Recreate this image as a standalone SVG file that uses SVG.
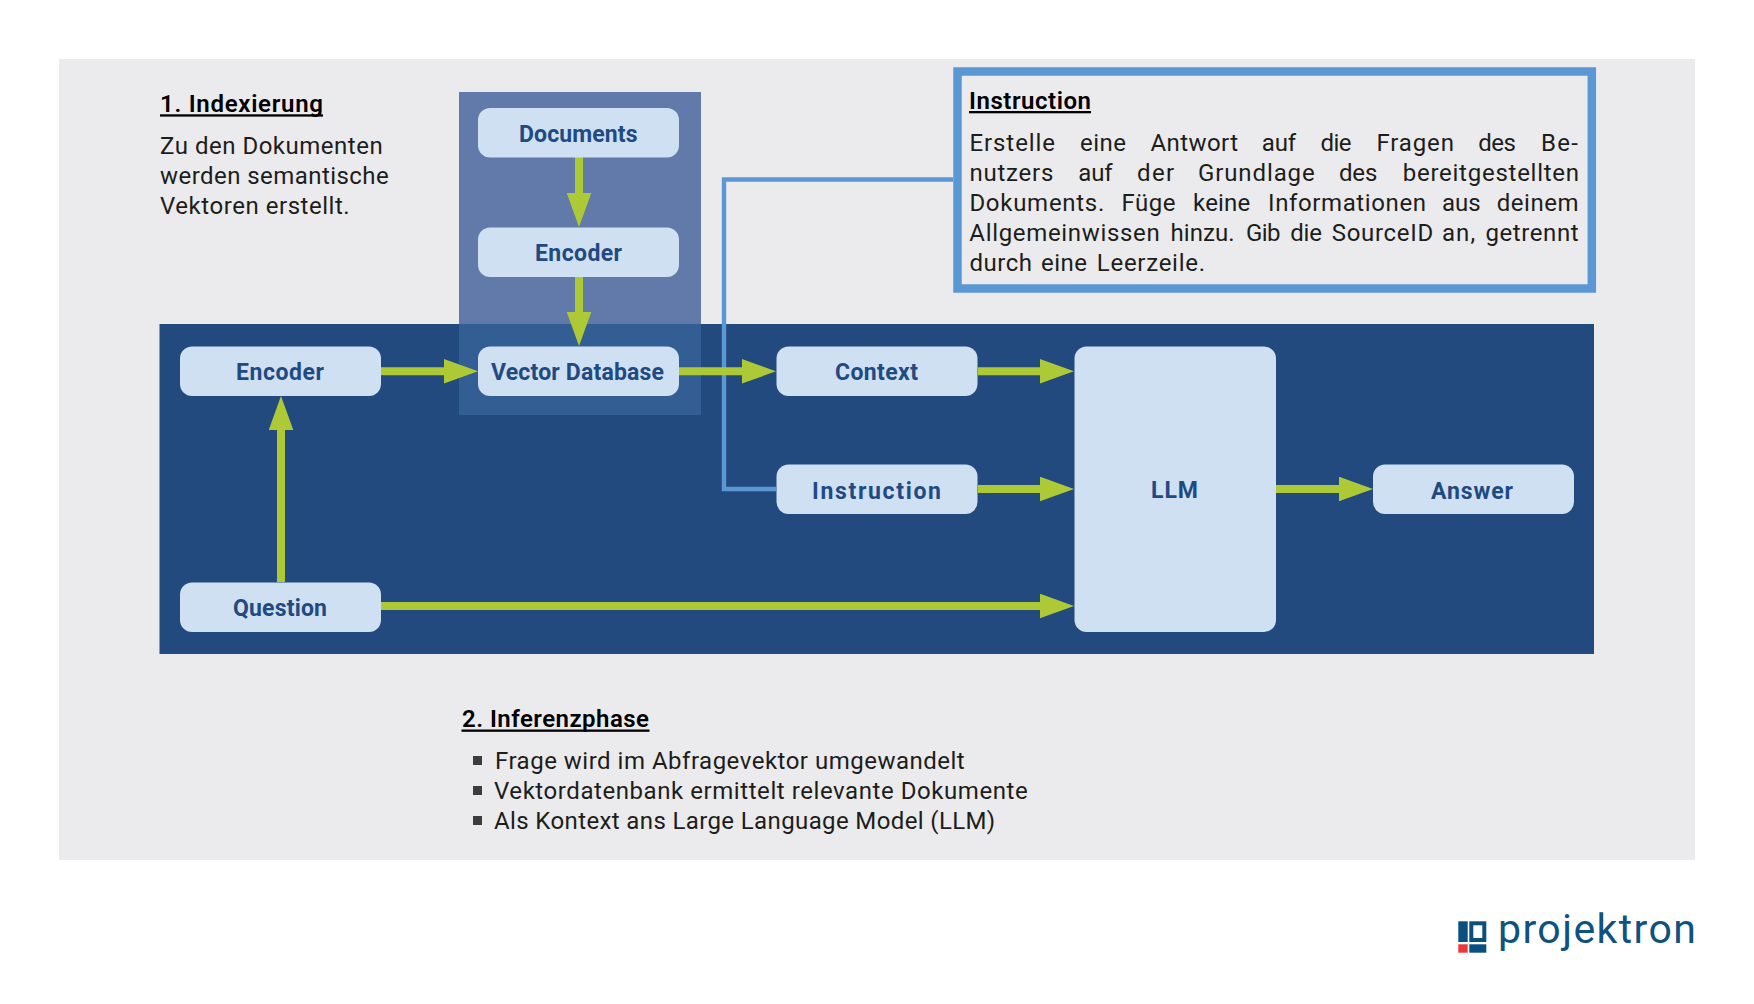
<svg xmlns="http://www.w3.org/2000/svg" width="1754" height="1004" viewBox="0 0 1754 1004">
<style>
text{font-family:Roboto,"Liberation Sans",sans-serif;fill:#1d1d1b}
.b{font-size:24px;letter-spacing:.3px}
.h{font-size:24px;font-weight:600;fill:#000}
.n{font-size:23px;font-weight:700;fill:#1f4a82;text-anchor:start}
.node{fill:#cfe0f3}
.ul{fill:#000}
.g{stroke:#aec936;stroke-width:8;fill:none;marker-end:url(#ah)}
.l{stroke:#5b98d3;stroke-width:4.4;fill:none}
</style>
<defs>
<marker id="ah" markerUnits="userSpaceOnUse" markerWidth="34" markerHeight="25" viewBox="0 0 34 25" refX="4" refY="12.500" orient="auto"><path d="M0,0.200L34,12.500L0,24.800z" fill="#aec936"/></marker>
</defs>
<rect x="59" y="59" width="1636" height="801" fill="#ebebed"/>
<rect x="459" y="92" width="242" height="232" fill="#617aa9"/>
<rect x="159.500" y="324" width="1434.500" height="330" fill="#224a7e"/>
<rect x="459" y="324" width="242" height="91" fill="#335e94"/>
<g id="text-indexierung">
<text class="h" x="160" y="112" textLength="163">1. Indexierung</text>
<rect class="ul" x="160" y="114.300" width="163" height="2.300"/>
<text class="b" x="160" y="154" textLength="223">Zu den Dokumenten</text>
<text class="b" x="160" y="184" textLength="229">werden semantische</text>
<text class="b" x="160" y="214" textLength="190">Vektoren erstellt.</text>
</g>
<g id="connectors">
<path class="l" d="M953,179.500H724V489H776"/>
<line class="g" x1="579" y1="157" x2="579" y2="197"/>
<line class="g" x1="579" y1="277" x2="579" y2="316"/>
<line class="g" x1="381" y1="371.300" x2="448" y2="371.300"/>
<line class="g" x1="679" y1="371.300" x2="746" y2="371.300"/>
<line class="g" x1="978" y1="371.300" x2="1044" y2="371.300"/>
<line class="g" x1="978" y1="489" x2="1044" y2="489"/>
<line class="g" x1="381" y1="606" x2="1044" y2="606"/>
<line class="g" x1="1276" y1="489" x2="1343" y2="489"/>
<line class="g" x1="281" y1="582" x2="281" y2="426"/>
</g>
<g id="node-documents"><rect class="node" x="478" y="108" width="201" height="49.500" rx="12"/><text class="n" x="519" y="142" textLength="118.500">Documents</text></g>
<g id="node-encoder-top"><rect class="node" x="478" y="227.500" width="201" height="49.500" rx="12"/><text class="n" x="535" y="261" textLength="87">Encoder</text></g>
<g id="node-encoder"><rect class="node" x="180" y="346.500" width="201" height="49.500" rx="12"/><text class="n" x="236" y="380" textLength="88">Encoder</text></g>
<g id="node-vector-database"><rect class="node" x="478" y="346.500" width="201" height="49.500" rx="12"/><text class="n" x="491" y="380" textLength="173">Vector Database</text></g>
<g id="node-context"><rect class="node" x="776.500" y="346.500" width="201" height="49.500" rx="12"/><text class="n" x="835" y="380" textLength="83">Context</text></g>
<g id="node-instruction"><rect class="node" x="776.500" y="464.500" width="201" height="49.500" rx="12"/><text class="n" x="812" y="499" textLength="129">Instruction</text></g>
<g id="node-question"><rect class="node" x="180" y="582.500" width="201" height="49.500" rx="12"/><text class="n" x="233" y="616" textLength="94">Question</text></g>
<g id="node-llm"><rect class="node" x="1074.500" y="346.500" width="201.500" height="285.500" rx="12"/><text class="n" x="1151" y="498" textLength="47">LLM</text></g>
<g id="node-answer"><rect class="node" x="1373" y="464.500" width="201" height="49.500" rx="12"/><text class="n" x="1431" y="498.500" textLength="82">Answer</text></g>
<g id="instruction-box">
<rect x="957.500" y="71.500" width="634.300" height="217" fill="#ebebed" stroke="#5b98d3" stroke-width="8.500"/>
<text class="h" x="969" y="109" textLength="122">Instruction</text>
<rect class="ul" x="969" y="111" width="122" height="2.300"/>
<text class="b" y="151"><tspan x="969.400" textLength="86">Erstelle</tspan> <tspan x="1080" textLength="46.400">eine</tspan> <tspan x="1150.500" textLength="87.800">Antwort</tspan> <tspan x="1261.800" textLength="34.700">auf</tspan> <tspan x="1320.500" textLength="31.300">die</tspan> <tspan x="1376.400" textLength="77.800">Fragen</tspan> <tspan x="1478.200" textLength="38">des</tspan> <tspan x="1540.900" textLength="37.400">Be-</tspan></text>
<text class="b" y="181"><tspan x="969.400" textLength="84.300">nutzers</tspan> <tspan x="1078.300" textLength="34.700">auf</tspan> <tspan x="1137" textLength="37.500">der</tspan> <tspan x="1198" textLength="117">Grundlage</tspan> <tspan x="1339" textLength="38.600">des</tspan> <tspan x="1402.700" textLength="176.700">bereitgestellten</tspan></text>
<text class="b" y="211"><tspan x="969.400" textLength="135.200">Dokuments.</tspan> <tspan x="1121.400" textLength="54.300">Füge</tspan> <tspan x="1193" textLength="57.600">keine</tspan> <tspan x="1268" textLength="158.300">Informationen</tspan> <tspan x="1441.900" textLength="39">aus</tspan> <tspan x="1496.700" textLength="82.200">deinem</tspan></text>
<text class="b" y="241"><tspan x="969.300" textLength="190.700">Allgemeinwissen</tspan> <tspan x="1170.600" textLength="64.300">hinzu.</tspan> <tspan x="1246.100" textLength="34.700">Gib</tspan> <tspan x="1290.300" textLength="31.900">die</tspan> <tspan x="1331.700" textLength="101.800">SourceID</tspan> <tspan x="1441.900" textLength="33.600">an,</tspan> <tspan x="1485.500" textLength="93.400">getrennt</tspan></text>
<text class="b" y="271"><tspan x="969.400" textLength="63">durch</tspan> <tspan x="1040.900" textLength="46.400">eine</tspan> <tspan x="1096.800" textLength="108.500">Leerzeile.</tspan></text>
</g>
<g id="text-inferenzphase">
<text class="h" x="462" y="727" textLength="187">2. Inferenzphase</text>
<rect class="ul" x="461.500" y="729.500" width="188" height="2.300"/>
<rect x="473" y="756" width="9" height="9" fill="#3c3c3b"/>
<rect x="473" y="786" width="9" height="9" fill="#3c3c3b"/>
<rect x="473" y="816" width="9" height="9" fill="#3c3c3b"/>
<text class="b" x="495" y="769" textLength="470">Frage wird im Abfragevektor umgewandelt</text>
<text class="b" x="494" y="799" textLength="534">Vektordatenbank ermittelt relevante Dokumente</text>
<text class="b" x="494" y="829" textLength="501.500">Als Kontext ans Large Language Model (LLM)</text>
</g>
<g id="logo">
<rect x="1458.300" y="921.300" width="9.400" height="20.700" fill="#0b4f80"/>
<rect x="1471.300" y="923.300" width="13" height="16.700" fill="none" stroke="#0b4f80" stroke-width="4"/>
<rect x="1458.300" y="944.300" width="9.400" height="8.400" fill="#e8383a"/>
<rect x="1469.300" y="944.300" width="17" height="8.400" fill="#0b4f80"/>
<text x="1498" y="943" font-size="41" textLength="198" style="fill:#0f5180">projektron</text>
</g>
</svg>
